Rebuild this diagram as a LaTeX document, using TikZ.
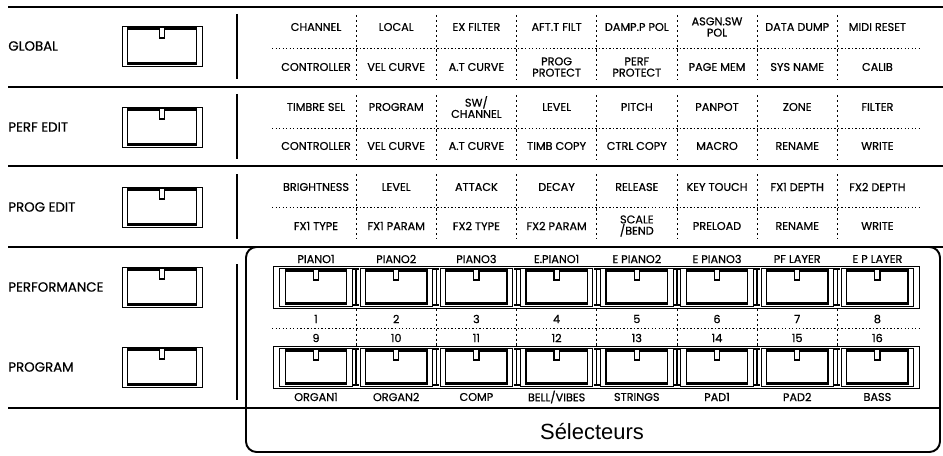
\documentclass[tikz,border=0pt]{standalone}
\usepackage{fontspec}
\setmainfont{Poppins}[FakeBold=0.6]
\newfontfamily\helvfont{Liberation Sans}
\begin{document}
\begin{tikzpicture}[x=0.02cm,y=-0.02cm,font=\fontsize{6.4}{6.4}\selectfont,
  sepline/.style={line width=1.1pt},
  colsep/.style={line width=0.45pt, dash pattern=on 1.2pt off 1.6pt},
  rowsep/.style={line width=0.45pt, dash pattern=on 0.8pt off 1.2pt},
  lab/.style={align=center, inner sep=0pt},
  side/.style={anchor=west, inner sep=0pt, font=\fontsize{7.6}{8}\selectfont},
  key/.style={draw, line width=0.5pt, minimum width=1.6cm, minimum height=0.8cm, inner sep=0pt,
    path picture={
      \draw[line width=0.8pt] ([shift={(3.2pt,-1.2pt)}]path picture bounding box.north west)
        rectangle ([shift={(-3.2pt,1.2pt)}]path picture bounding box.south east);
      \draw[line width=1.8pt] ([shift={(3.2pt,-1.2pt)}]path picture bounding box.north west)
        -- ([shift={(-3.2pt,-1.2pt)}]path picture bounding box.north east)
        ([shift={(3.2pt,1.2pt)}]path picture bounding box.south west)
        -- ([shift={(-3.2pt,1.2pt)}]path picture bounding box.south east);
      \draw[line width=0.7pt, fill=white] ([xshift=-1.5pt,yshift=-1pt]path picture bounding box.north)
        -- ++(0pt,-5.8pt) -- ++(3pt,0pt) -- ++(0pt,5.8pt);}},
  smallkey/.style={key, minimum width=1.45cm, minimum height=0.76cm}]
\useasboundingbox (0,0) rectangle (943,456);
% frame lines
\foreach \yt in {7,87,166,247} \draw[sepline] (8,\yt) -- (943,\yt);
\draw[sepline] (8,408) -- (940,408);
\draw[sepline, rounded corners=6pt] (246,247) rectangle (940,452);
\foreach \a/\b in {14/79, 94/159, 174/239, 264/400} \draw[line width=0.9pt] (237,\a) -- (237,\b);
% mode keys
\foreach \t/\y/\n in {GLOBAL/46/glob, PERF EDIT/127/perf, PROG EDIT/207/prog, PERFORMANCE/287/pfm, PROGRAM/367/pgm} {
  \node[side] (lab-\n) at (8,\y) {\t};
  \node[key] (key-\n) at (162,\y) {};
}
% page grid
\foreach \yt in {7,87,166} {
  \draw[rowsep] (272,\yt+41) -- (922,\yt+41);
  \foreach \i in {1,...,7} \draw[colsep] (275.9+80.2*\i,\yt+8) -- (275.9+80.2*\i,\yt+73);
}
\foreach \t [count=\i] in {CHANNEL, LOCAL, EX FILTER, AFT.T FILT, DAMP.P POL, {ASGN.SW\\POL}, DATA DUMP, MIDI RESET}
  \node[lab] (globA\i) at (235.8+80.2*\i,27) {\t};
\foreach \t [count=\i] in {CONTROLLER, VEL CURVE, A.T CURVE, {PROG\\PROTECT}, {PERF\\PROTECT}, PAGE MEM, SYS NAME, CALIB}
  \node[lab] (globB\i) at (235.8+80.2*\i,67) {\t};
\foreach \t [count=\i] in {TIMBRE SEL, PROGRAM, {SW/\\CHANNEL}, LEVEL, PITCH, PANPOT, ZONE, FILTER}
  \node[lab] (perfA\i) at (235.8+80.2*\i,107) {\t};
\foreach \t [count=\i] in {CONTROLLER, VEL CURVE, A.T CURVE, TIMB COPY, CTRL COPY, MACRO, RENAME, WRITE}
  \node[lab] (perfB\i) at (235.8+80.2*\i,146) {\t};
\foreach \t [count=\i] in {BRIGHTNESS, LEVEL, ATTACK, DECAY, RELEASE, KEY TOUCH, FX1 DEPTH, FX2 DEPTH}
  \node[lab] (progA\i) at (235.8+80.2*\i,187) {\t};
\foreach \t [count=\i] in {FX1 TYPE, FX1 PARAM, FX2 TYPE, FX2 PARAM, {SCALE\\/BEND}, PRELOAD, RENAME, WRITE}
  \node[lab] (progB\i) at (235.8+80.2*\i,226) {\t};
% selectors
\foreach \yt in {266,346} \draw[line width=0.5pt] (273,\yt) rectangle (919,\yt+42);
\draw[rowsep] (272,328) -- (922,328);
\foreach \i in {1,...,8} {
  \node[smallkey] (selA\i) at (235.8+80.2*\i,287) {};
  \node[smallkey] (selB\i) at (235.8+80.2*\i,367) {};
  \node[lab] (numA\i) at (235.8+80.2*\i,319) {\i};
  \pgfmathtruncatemacro\j{\i+8}
  \node[lab] (numB\i) at (235.8+80.2*\i,338) {\j};
}
\foreach \i in {1,...,7} {
  \draw[colsep] (275.9+80.2*\i,309) -- (275.9+80.2*\i,346);
  \foreach \yt in {269,349}
    \draw[line width=0.9pt] (272.9+80.2*\i,\yt) -- (278.9+80.2*\i,\yt)
      (275.9+80.2*\i,\yt) -- (275.9+80.2*\i,\yt+36) (272.9+80.2*\i,\yt+36) -- (278.9+80.2*\i,\yt+36);
}
\foreach \t [count=\i] in {PIANO1, PIANO2, PIANO3, E.PIANO1, E PIANO2, E PIANO3, PF LAYER, E P LAYER}
  \node[lab] (topA\i) at (235.8+80.2*\i,259) {\t};
\foreach \t [count=\i] in {ORGAN1, ORGAN2, COMP, BELL/VIBES, STRINGS, PAD1, PAD2, BASS}
  \node[lab] (botB\i) at (235.8+80.2*\i,397) {\t};
\node[font=\helvfont\fontsize{12.5}{14}\selectfont] (sel) at (592,432) {Sélecteurs};
\end{tikzpicture}
\end{document}
